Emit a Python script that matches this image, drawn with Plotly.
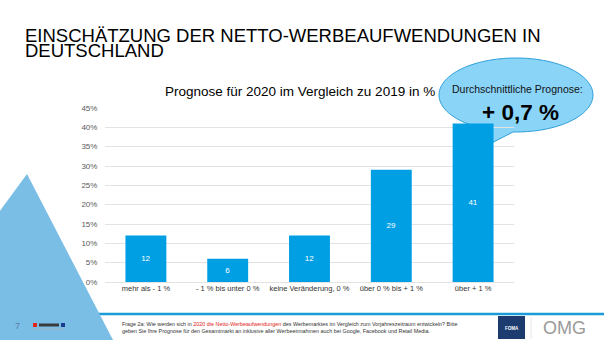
import numpy as np
import plotly.graph_objects as go

# Survey result: expected change of net advertising spend 2020 vs. 2019
categories = ["mehr als - 1 %", "- 1 % bis unter 0 %", "keine Veränderung, 0 %",
              "über 0 % bis + 1 %", "über + 1 %"]
shares = [12, 6, 12, 29, 41]
y_ticks = [0, 5, 10, 15, 20, 25, 30, 35, 40, 45]
y_tick_labels = [f"{v}%" for v in y_ticks]

W, H = 604, 340
L, R, T, B = 105, 90, 108, 58          # plot area margins in px
PW, PH = W - L - R, H - T - B

FONT = "Liberation Sans, Arial, sans-serif"
BAR = "#009FE3"


def px(x, y):
    """Pixel position on the page -> paper coordinates."""
    return (x - L) / PW, (H - B - y) / PH


def path_from(points):
    pts = [px(x, y) for x, y in points]
    return "M " + " L ".join(f"{a:.5f},{b:.5f}" for a, b in pts) + " Z"


fig = go.Figure(go.Bar(
    x=categories, y=shares, marker_color=BAR, marker_line_width=0,
    text=[str(v) for v in shares], textposition="inside",
    insidetextanchor="middle",
    textfont=dict(color="white", size=8, family=FONT),
    hoverinfo="skip",
))

shapes = []

# footer rule
x0, y0 = px(0, 314)
x1, _ = px(W, 314)
shapes.append(dict(type="line", xref="paper", yref="paper", x0=x0, x1=x1, y0=y0, y1=y0,
                   line=dict(color="#1A9AD6", width=2.5), layer="below"))

# light blue triangle on the left edge
shapes.append(dict(type="path", xref="paper", yref="paper", layer="below",
                   path=path_from([(27, 174), (113, 340), (-80, 340), (-80, 320)]),
                   fillcolor="#7ABEE6", line=dict(width=0)))

# speech bubble with average forecast
cx, cy, rx, ry = 516, 95, 77, 37
th = np.radians(np.linspace(92.2, 126.7 - 360, 120))
bubble = [(cx + rx * np.cos(t), cy + ry * np.sin(t)) for t in th]
bubble.append((476, 151))
shapes.append(dict(type="path", xref="paper", yref="paper", layer="below",
                   path=path_from(bubble), fillcolor="#8AD4F8",
                   line=dict(color="#2E9FD8", width=1)))

# FOMA badge
bx0, by0 = px(498, 316)
bx1, by1 = px(525, 339)
shapes.append(dict(type="rect", xref="paper", yref="paper", x0=bx0, x1=bx1, y0=by1, y1=by0,
                   fillcolor="#1C3B6E", line=dict(width=0)))
# divider
dx, dy0 = px(531, 317)
_, dy1 = px(531, 339)
shapes.append(dict(type="line", xref="paper", yref="paper", x0=dx, x1=dx, y0=dy0, y1=dy1,
                   line=dict(color="#E6E6E6", width=1)))

# small partner mark bottom left
for (ax0, ax1, col) in [(33, 37, "#E2231A"), (61, 65, "#1C3B8C")]:
    a0, b0 = px(ax0, 323)
    a1, b1 = px(ax1, 327)
    shapes.append(dict(type="rect", xref="paper", yref="paper", x0=a0, x1=a1, y0=b1, y1=b0,
                       fillcolor=col, line=dict(width=0)))
a0, b0 = px(39, 323.5)
a1, b1 = px(59, 326.5)
shapes.append(dict(type="rect", xref="paper", yref="paper", x0=a0, x1=a1, y0=b1, y1=b0,
                   fillcolor="#3A3A3A", line=dict(width=0)))
a0, b0 = px(33, 329)
a1, _ = px(65, 329)
shapes.append(dict(type="line", xref="paper", yref="paper", x0=a0, x1=a1, y0=b0, y1=b0,
                   line=dict(color="#B0B0B0", width=0.6)))

annotations = []


def note(x, y, text, size, color="black", xanchor="left", **kw):
    ax, ay = px(x, y)
    annotations.append(dict(xref="paper", yref="paper", x=ax, y=ay, text=text,
                            showarrow=False, xanchor=xanchor, yanchor="middle",
                            font=dict(size=size, color=color, family=FONT), **kw))


note(23, 35.5, "EINSCHÄTZUNG DER NETTO-WERBEAUFWENDUNGEN IN", 18.5)
note(23, 50.5, "DEUTSCHLAND", 18.5)
note(300, 92, "Prognose für 2020 im Vergleich zu 2019 in %", 13.5, xanchor="center")
note(517, 89, "Durchschnittliche Prognose:", 10.5, color="#111111", xanchor="center")
note(520, 112, "<b>+ 0,7 %</b>", 22.5, xanchor="center")

# footer
note(17, 326, "7", 9, color="#5B7FA8", xanchor="center")
note(120, 323.5,
     "Frage 2a: Wie werden sich in <span style='color:#E2231A'>2020 die Netto-Werbeaufwendungen</span> "
     "des Werbemarktes im Vergleich zum Vorjahreszeitraum entwickeln? Bitte", 5.4, color="#333333")
note(120, 330.5,
     "geben Sie Ihre Prognose für den Gesamtmarkt an inklusive aller Werbeeinnahmen auch bei "
     "Google, Facebook und Retail Media.", 5.4, color="#333333")
note(511.5, 328, "<b>FOMA</b>", 4.5, color="white", xanchor="center")
note(564, 328, "OMG", 18, color="#9A9A9A", xanchor="center")

fig.update_layout(
    width=W, height=H,
    margin=dict(l=L, r=R, t=T, b=B, autoexpand=False),
    paper_bgcolor="white", plot_bgcolor="rgba(0,0,0,0)",
    bargap=0.5, showlegend=False,
    shapes=shapes, annotations=annotations,
    font=dict(family=FONT),
    xaxis=dict(tickfont=dict(size=7.5, color="#333333"), showgrid=False,
               showline=False, ticks="", fixedrange=True),
    yaxis=dict(range=[0, 45], tickvals=y_ticks, ticktext=y_tick_labels,
               tickfont=dict(size=8, color="#595959"), showgrid=True,
               gridcolor="#E3E3E3", gridwidth=1, zeroline=True,
               zerolinecolor="#E3E3E3", zerolinewidth=1,
               showline=False, ticks="outside", ticklen=5,
               tickcolor="rgba(0,0,0,0)", fixedrange=True),
)

fig.write_html("out.html")
